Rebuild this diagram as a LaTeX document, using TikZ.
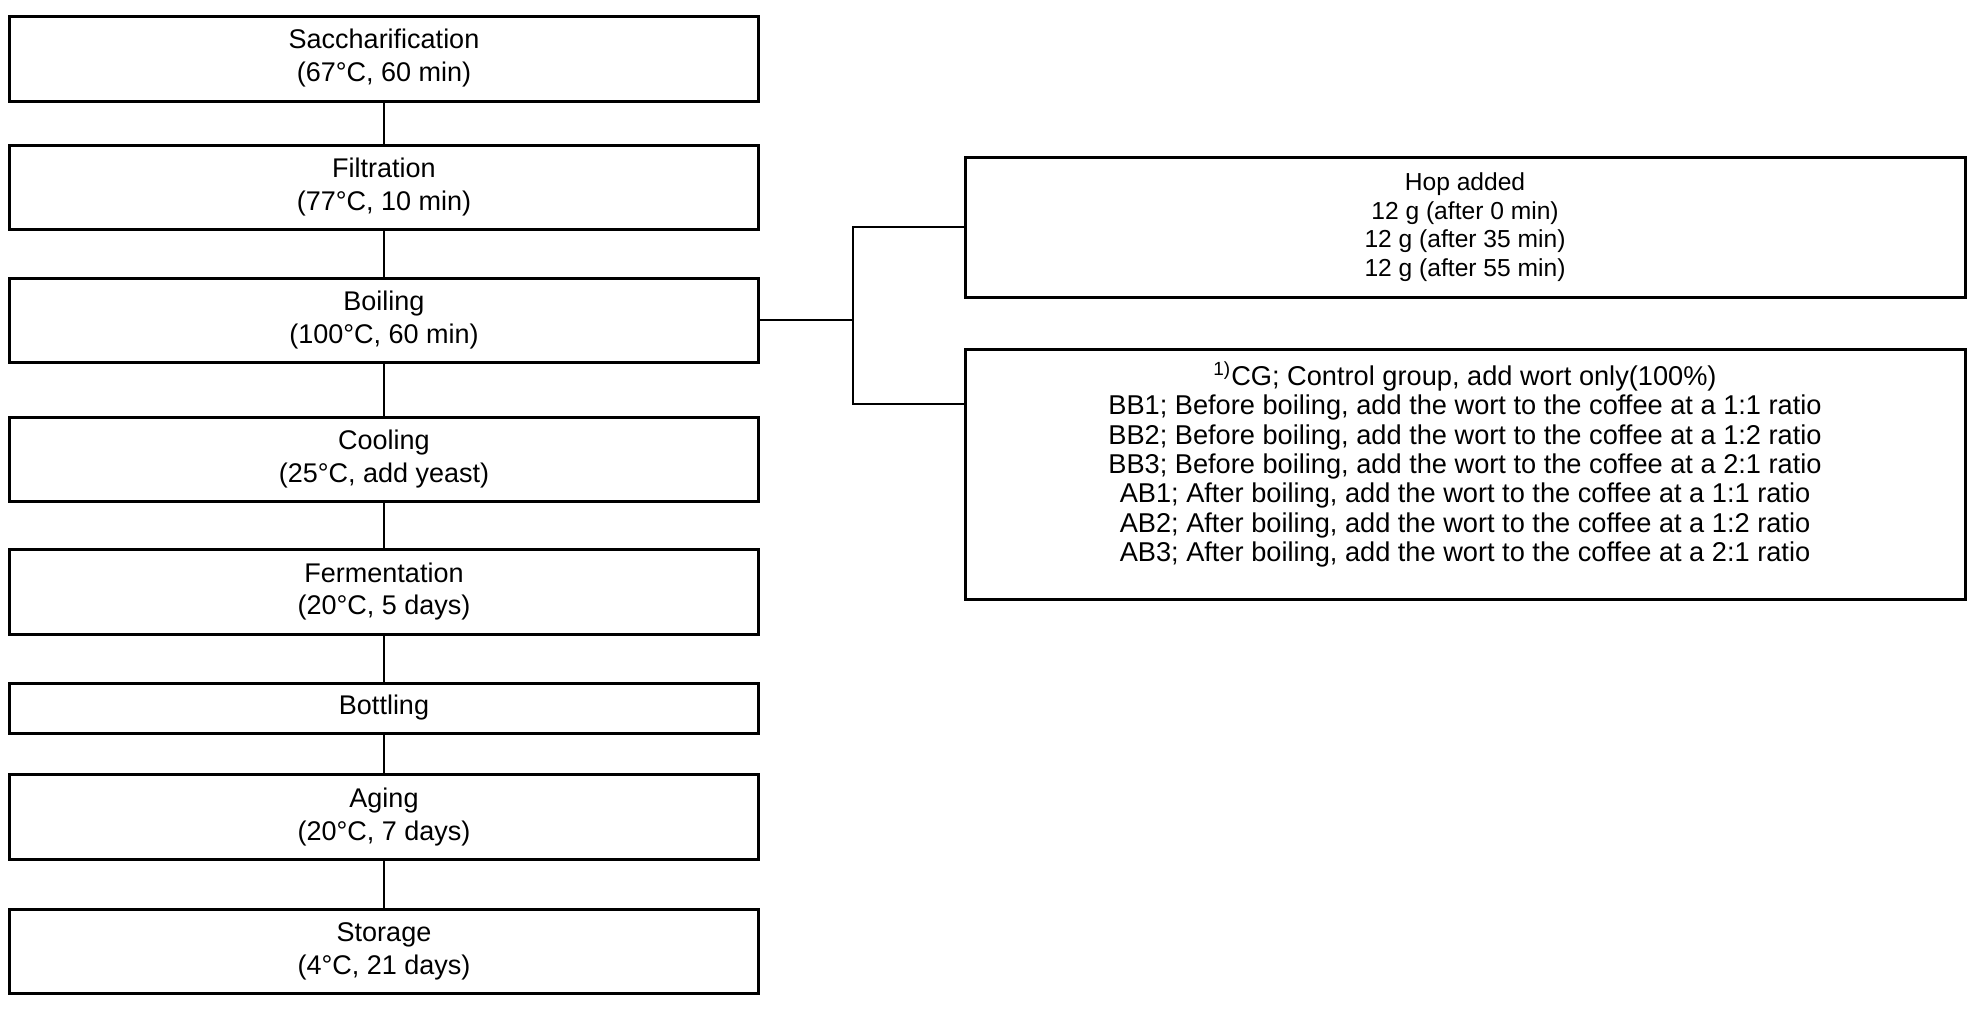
\documentclass[tikz,border=0pt]{standalone}
\usepackage{fontspec}
\setmainfont{Liberation Sans}
\begin{document}
\begin{tikzpicture}[x=0.5pt,y=-0.5pt,
  stepbox/.style={draw, line width=1.5pt, minimum width=374.5pt, align=center, inner sep=0pt,
    font=\fontsize{13.5}{16.5}\selectfont},
  hopbox/.style={draw, line width=1.5pt, minimum width=500pt, minimum height=70pt, align=center, inner sep=0pt,
    font=\fontsize{12.3}{14.35}\selectfont},
  grpbox/.style={draw, line width=1.5pt, minimum width=500pt, minimum height=125pt, inner sep=0pt},
  grptext/.style={align=center, inner sep=0pt, font=\fontsize{13.6}{14.65}\selectfont},
  conn/.style={line width=1.4pt},
  thinconn/.style={line width=0.8pt}]
\fill[white] (0,0) rectangle (1970,1009);
\useasboundingbox (0,0) rectangle (1970,1009);

\node[stepbox, minimum height=42.5pt] (b1) at (384,58.5) {Saccharification\\(67°C, 60 min)};
\node[stepbox, minimum height=42pt] (b2) at (384,187) {Filtration\\(77°C, 10 min)};
\node[stepbox, minimum height=42pt] (b3) at (384,320) {Boiling\\(100°C, 60 min)};
\node[stepbox, minimum height=42pt] (b4) at (384,459) {Cooling\\(25°C, add yeast)};
\node[stepbox, minimum height=42.5pt] (b5) at (384,591.5) {Fermentation\\(20°C, 5 days)};
\node[stepbox, minimum height=25pt] (b6) at (384,708) {Bottling};
\node[stepbox, minimum height=42.5pt] (b7) at (384,816.5) {Aging\\(20°C, 7 days)};
\node[stepbox, minimum height=42pt] (b8) at (384,951) {Storage\\(4°C, 21 days)};

\draw[conn] (b1) -- (b2);
\draw[conn] (b2) -- (b3);
\draw[conn] (b3) -- (b4);
\draw[conn] (b4) -- (b5);
\draw[conn] (b5) -- (b6);
\draw[conn] (b6) -- (b7);
\draw[conn] (b7) -- (b8);

\node[hopbox] (hop) at (1465,227) {Hop added\\12 g (after 0 min)\\12 g (after 35 min)\\12 g (after 55 min)};
\node[grpbox] (grp) at (1465,474) {};
\node[grptext, anchor=north] (grpt) at (1465,361) {\textsuperscript{1)}CG; Control group, add wort only(100\%)\\
BB1; Before boiling, add the wort to the coffee at a 1:1 ratio\\
BB2; Before boiling, add the wort to the coffee at a 1:2 ratio\\
BB3; Before boiling, add the wort to the coffee at a 2:1 ratio\\
AB1; After boiling, add the wort to the coffee at a 1:1 ratio\\
AB2; After boiling, add the wort to the coffee at a 1:2 ratio\\
AB3; After boiling, add the wort to the coffee at a 2:1 ratio};

\coordinate (jb) at (853,404);
\coordinate (gin) at (965,404);
\draw[thinconn] (b3.east) -- (b3.east -| jb);
\draw[thinconn] (hop.west) -- (hop.west -| jb) -- (jb) -- (gin);
\end{tikzpicture}
\end{document}
